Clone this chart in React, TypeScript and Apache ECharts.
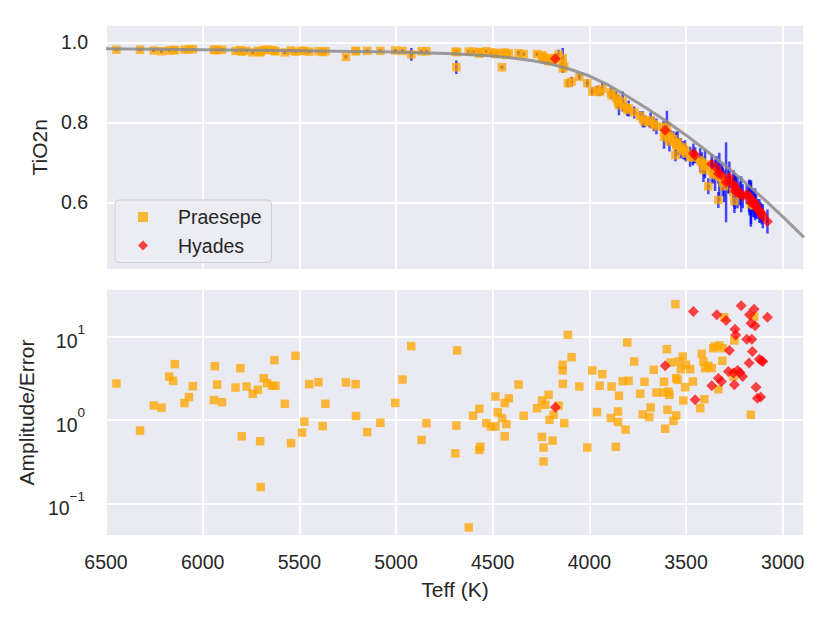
import React, { useEffect, useRef } from "react";
import * as echarts from "echarts";

// ---- Praesepe ----
const praeTeff = [
  6446, 6324, 6253, 6213, 6173, 6153, 6144, 6094, 6071, 6051,
  5942, 5937, 5925, 5900, 5830, 5805, 5798, 5773, 5741, 5714,
  5703, 5700, 5684, 5667, 5641, 5629, 5624, 5575, 5543, 5520,
  5486, 5474, 5449, 5401, 5379, 5365, 5259, 5209, 5207, 5149,
  5081, 5004, 4966, 4921, 4868, 4843, 4693, 4688, 4684, 4624,
  4602, 4569, 4569, 4564, 4533, 4509, 4486, 4486, 4474, 4452,
  4438, 4438, 4429, 4417, 4366, 4340, 4271, 4245, 4245, 4237,
  4237, 4228, 4211, 4206, 4190, 4185, 4159, 4138, 4138, 4137,
  4130, 4111, 4092, 4052, 4011, 3985, 3961, 3947, 3933, 3889,
  3885, 3863, 3852, 3852, 3847, 3828, 3813, 3804, 3797, 3768,
  3737, 3724, 3715, 3690, 3683, 3667, 3653, 3617, 3614, 3608,
  3599, 3596, 3591, 3586, 3579, 3565, 3555, 3551, 3551, 3544,
  3539, 3527, 3517, 3514, 3505, 3500, 3479, 3465, 3427, 3419,
  3410, 3405, 3402, 3385, 3367, 3359, 3350, 3333, 3328, 3312,
  3310, 3303, 3255, 3250, 3165, 3148,
];
const praeAmp = [
  2.75, 0.75, 1.5, 1.41, 3.33, 2.96, 4.69, 1.6, 1.89, 2.55,
  1.74, 4.43, 2.67, 1.64, 2.46, 4.2, 0.64, 2.53, 2.07, 2.31,
  0.56, 0.158, 3.18, 2.77, 2.58, 5.23, 2.58, 1.57, 0.53, 5.89,
  0.71, 0.96, 2.7, 2.85, 0.85, 1.57, 2.83, 2.7, 1.12, 0.72,
  0.93, 1.61, 3.07, 7.7, 0.58, 0.92, 0.4, 0.86, 6.83, 0.052,
  1.13, 1.37, 0.44, 0.48, 0.92, 0.84, 1.92, 0.84, 1.24, 1.06,
  0.64, 1.6, 0.9, 1.82, 2.67, 1.13, 1.39, 1.72, 0.63, 0.47,
  0.32, 1.53, 2.01, 1.01, 0.57, 1.16, 1.49, 4.6, 3.94, 2.72,
  0.92, 10.5, 5.68, 2.53, 0.47, 3.94, 1.25, 2.58, 3.56, 1.06,
  2.53, 0.48, 1.27, 0.95, 1.96, 2.93, 0.77, 8.51, 2.96, 5.04,
  2.07, 1.17, 2.88, 1.09, 1.42, 4.01, 2.14, 2.14, 2.88, 0.79,
  7.08, 1.33, 2.2, 2.01, 4.91, 0.98, 24.5, 3.18, 1.14, 3.04,
  5.04, 4.08, 5.79, 1.72, 2.48, 4.6, 4.08, 2.9, 1.39, 6.23,
  5.04, 1.78, 4.2, 4.47, 4.2, 7.28, 7.62, 2.35, 7.84, 5.14,
  7.28, 17.1, 3.33, 9.0, 1.16, 17.4,
];
const praeTiO = [
  0.982, 0.982, 0.98, 0.978, 0.98, 0.981, 0.981, 0.982, 0.983, 0.983,
  0.981, 0.982, 0.981, 0.982, 0.979, 0.981, 0.977, 0.979, 0.975, 0.979,
  0.975, 0.977, 0.981, 0.982, 0.981, 0.979, 0.978, 0.975, 0.98, 0.977,
  0.979, 0.979, 0.977, 0.978, 0.976, 0.978, 0.964, 0.979, 0.978, 0.979,
  0.979, 0.98, 0.979, 0.97, 0.978, 0.978, 0.977, 0.938, 0.976, 0.977,
  0.977, 0.976, 0.972, 0.975, 0.978, 0.975, 0.974, 0.971, 0.972, 0.938,
  0.975, 0.971, 0.969, 0.973, 0.973, 0.971, 0.971, 0.968, 0.963, 0.964,
  0.961, 0.957, 0.953, 0.959, 0.961, 0.955, 0.97, 0.961, 0.948, 0.935,
  0.94, 0.898, 0.902, 0.914, 0.898, 0.877, 0.88, 0.876, 0.884, 0.875,
  0.868, 0.862, 0.856, 0.85, 0.843, 0.852, 0.838, 0.831, 0.835, 0.825,
  0.816, 0.808, 0.802, 0.8, 0.805, 0.796, 0.79, 0.788, 0.764, 0.775,
  0.789, 0.77, 0.76, 0.752, 0.765, 0.758, 0.718, 0.75, 0.742, 0.748,
  0.74, 0.735, 0.738, 0.728, 0.73, 0.722, 0.714, 0.712, 0.705, 0.7,
  0.681, 0.69, 0.695, 0.64, 0.677, 0.672, 0.668, 0.606, 0.664, 0.66,
  0.65, 0.64, 0.625, 0.603, 0.595, 0.592,
];
const praeErr = [
  0.003, 0.003, 0.003, 0.003, 0.003, 0.003, 0.003, 0.003, 0.003, 0.003,
  0.004, 0.003, 0.003, 0.003, 0.003, 0.004, 0.003, 0.003, 0.003, 0.003,
  0.003, 0.003, 0.006, 0.003, 0.003, 0.003, 0.005, 0.003, 0.003, 0.003,
  0.003, 0.003, 0.003, 0.003, 0.003, 0.003, 0.004, 0.003, 0.003, 0.003,
  0.003, 0.003, 0.004, 0.016, 0.003, 0.003, 0.003, 0.017, 0.003, 0.004,
  0.003, 0.005, 0.004, 0.003, 0.003, 0.003, 0.004, 0.004, 0.005, 0.004,
  0.003, 0.006, 0.004, 0.004, 0.006, 0.004, 0.004, 0.006, 0.005, 0.006,
  0.005, 0.006, 0.005, 0.006, 0.008, 0.006, 0.012, 0.025, 0.023, 0.01,
  0.008, 0.01, 0.012, 0.008, 0.01, 0.01, 0.012, 0.01, 0.015, 0.012,
  0.01, 0.015, 0.012, 0.015, 0.025, 0.025, 0.012, 0.015, 0.02, 0.015,
  0.012, 0.02, 0.015, 0.012, 0.02, 0.018, 0.02, 0.015, 0.03, 0.02,
  0.04, 0.02, 0.018, 0.025, 0.015, 0.02, 0.015, 0.025, 0.02, 0.03,
  0.02, 0.025, 0.015, 0.02, 0.025, 0.02, 0.025, 0.02, 0.03, 0.025,
  0.03, 0.025, 0.035, 0.02, 0.03, 0.025, 0.04, 0.02, 0.06, 0.03,
  0.035, 0.04, 0.035, 0.03, 0.056, 0.03,
];

// ---- Hyades ----
const hyaTeff = [
  4176, 3608, 3462, 3453, 3367, 3341, 3333, 3317, 3293, 3281,
  3276, 3255, 3250, 3247, 3243, 3234, 3221, 3215, 3207, 3186,
  3174, 3172, 3164, 3160, 3157, 3148, 3143, 3138, 3131, 3121,
  3114, 3109, 3103, 3079,
];
const hyaAmp = [
  1.43, 4.47, 20.0, 1.75, 2.58, 18.3, 3.18, 2.9, 15.6, 3.83,
  6.83, 3.66, 2.65, 12.3, 10.5, 3.94, 3.72, 23.4, 3.33, 9.33,
  4.82, 18.3, 14.5, 9.33, 6.64, 21.3, 13.5, 2.48, 1.83, 5.38,
  1.89, 5.14, 5.04, 17.1,
];
const hyaTiO = [
  0.959, 0.78, 0.722, 0.718, 0.696, 0.685, 0.672, 0.668, 0.65, 0.652,
  0.662, 0.645, 0.64, 0.628, 0.635, 0.625, 0.622, 0.62, 0.615, 0.62,
  0.615, 0.612, 0.6, 0.605, 0.598, 0.6, 0.595, 0.59, 0.583, 0.578,
  0.575, 0.57, 0.565, 0.552,
];
const hyaErr = [
  0.006, 0.02, 0.025, 0.02, 0.025, 0.03, 0.025, 0.03, 0.1, 0.03,
  0.04, 0.035, 0.03, 0.045, 0.03, 0.04, 0.03, 0.045, 0.03, 0.025,
  0.04, 0.045, 0.055, 0.03, 0.035, 0.03, 0.04, 0.03, 0.025, 0.03,
  0.025, 0.025, 0.03, 0.03,
];

// ---- fitted relation ----
const fitTeff = [6500, 6000, 5500, 5000, 4700, 4500, 4400, 4300, 4200, 4100, 4000, 3900, 3800, 3700, 3600, 3500, 3400, 3300, 3200, 3100, 3000, 2890];
const fitTiO = [0.984, 0.982, 0.979, 0.976, 0.972, 0.966, 0.961, 0.955, 0.946, 0.933, 0.916, 0.893, 0.864, 0.834, 0.802, 0.768, 0.731, 0.693, 0.652, 0.609, 0.564, 0.512];

// ---- tick values ----
const amplitudeDecades = [0.1, 1, 10];

const FONT = "'Liberation Sans', Arial, sans-serif";
const TXT = "#262626";
const ORANGE = "rgba(255,165,0,0.95)";
const RED = "rgba(255,0,0,0.9)";
const BLUE = "rgba(0,0,255,0.7)";

export default function App() {
  const ref = useRef<HTMLDivElement>(null);
  useEffect(() => {
    if (!ref.current) return;
    const chart = echarts.init(ref.current, null, { renderer: "svg" });

    const split = { show: true, lineStyle: { color: "#ffffff", width: 1.8 } };
    const xCommon = {
      type: "value",
      inverse: true,
      min: 2890,
      max: 6500,
      splitNumber: 7,
      axisLine: { show: false },
      axisTick: { show: false },
      splitLine: split,
    };

    const errRender = (params: any, api: any) => {
      const x = api.value(0);
      const y = api.value(1);
      const e = api.value(2);
      const p1 = api.coord([x, y + e]);
      const p2 = api.coord([x, y - e]);
      const c = api.coord([x, y]);
      return {
        type: "group",
        children: [
          {
            type: "line",
            shape: { x1: p1[0], y1: p1[1], x2: p2[0], y2: p2[1] },
            style: { stroke: BLUE, lineWidth: 2.5 },
          },
          {
            type: "rect",
            shape: { x: c[0] - 1.5, y: c[1] - 1.5, width: 3, height: 3 },
            style: { fill: "rgba(0,0,230,0.85)" },
          },
        ],
      };
    };

    const option: any = {
      animation: false,
      textStyle: { fontFamily: FONT, color: TXT },
      grid: [
        { left: 106, top: 24.5, width: 698, height: 245.5, show: true, backgroundColor: "#EAEAF2", borderWidth: 0 },
        { left: 106, top: 289, width: 698, height: 247, show: true, backgroundColor: "#EAEAF2", borderWidth: 0 },
      ],
      legend: {
        left: 115,
        top: 200,
        orient: "vertical",
        padding: [7, 10, 7, 23],
        itemGap: 8.5,
        itemWidth: 10,
        itemHeight: 10,
        backgroundColor: "rgba(236,236,243,0.9)",
        borderColor: "#CFCFCF",
        borderWidth: 1,
        borderRadius: 4,
        textStyle: { fontFamily: FONT, fontSize: 19.5, color: TXT, padding: [0, 0, 0, 25] },
        data: [
          { name: "Praesepe", icon: "rect" },
          { name: "Hyades", icon: "diamond" },
        ],
      },
      xAxis: [
        { ...xCommon, gridIndex: 0, axisLabel: { show: false } },
        {
          ...xCommon,
          gridIndex: 1,
          axisLabel: {
            show: true,
            fontSize: 19.5,
            color: TXT,
            fontFamily: FONT,
            margin: 16,
            showMinLabel: false,
            showMaxLabel: true,
            formatter: (v: number) => String(Math.round(v)),
          },
          name: "Teff (K)",
          nameLocation: "middle",
          nameGap: 43,
          nameTextStyle: { fontSize: 21, color: TXT, fontFamily: FONT },
        },
      ],
      yAxis: [
        {
          type: "value",
          gridIndex: 0,
          min: 0.4305,
          max: 1.045,
          splitNumber: 3,
          axisLine: { show: false },
          axisTick: { show: false },
          splitLine: split,
          axisLabel: {
            fontSize: 19.5,
            color: TXT,
            fontFamily: FONT,
            margin: 18,
            showMinLabel: false,
            showMaxLabel: false,
            formatter: (v: number) => v.toFixed(1),
          },
          name: "TiO2n",
          nameLocation: "middle",
          nameGap: 53,
          nameTextStyle: { fontSize: 21, color: TXT, fontFamily: FONT },
        },
        {
          type: "log",
          logBase: 10,
          gridIndex: 1,
          min: 0.041,
          max: 37.2,
          axisLine: { show: false },
          axisTick: { show: false },
          splitLine: split,
          axisLabel: {
            margin: 21,
            showMinLabel: false,
            showMaxLabel: false,
            formatter: (v: number) => {
              const hit = amplitudeDecades.find((d) => Math.abs(Math.log10(v / d)) < 0.01);
              if (hit == null) return "";
              const n = Math.round(Math.log10(hit));
              const s = n < 0 ? "\u2212" + String(-n) : String(n);
              return "{b|10}{s|" + s + "}";
            },
            rich: {
              b: { fontSize: 19.5, color: TXT, fontFamily: FONT, padding: [9, 0, 0, 0] },
              s: { fontSize: 13.5, color: TXT, fontFamily: FONT, verticalAlign: "top" },
            },
          },
          name: "Amplitude/Error",
          nameLocation: "middle",
          nameGap: 65,
          nameTextStyle: { fontSize: 21, color: TXT, fontFamily: FONT },
        },
      ],
      series: [
        {
          name: "fit",
          type: "line",
          xAxisIndex: 0,
          yAxisIndex: 0,
          data: fitTeff.map((t, i) => [t, fitTiO[i]]),
          showSymbol: false,
          smooth: false,
          lineStyle: { color: "rgba(140,140,140,0.85)", width: 3 },
          silent: true,
        },
        {
          name: "Praesepe",
          type: "scatter",
          xAxisIndex: 0,
          yAxisIndex: 0,
          symbol: "rect",
          symbolSize: 8.5,
          itemStyle: { color: ORANGE },
          data: praeTeff.map((t, i) => [t, praeTiO[i]]),
        },
        {
          name: "Hyades",
          type: "scatter",
          xAxisIndex: 0,
          yAxisIndex: 0,
          symbol: "diamond",
          symbolSize: 11,
          itemStyle: { color: RED },
          data: hyaTeff.map((t, i) => [t, hyaTiO[i]]),
        },
        {
          name: "Praesepe err",
          type: "custom",
          xAxisIndex: 0,
          yAxisIndex: 0,
          renderItem: errRender,
          encode: { x: 0, y: 1 },
          clip: true,
          data: praeTeff.map((t, i) => [t, praeTiO[i], praeErr[i]]),
        },
        {
          name: "Hyades err",
          type: "custom",
          xAxisIndex: 0,
          yAxisIndex: 0,
          renderItem: errRender,
          encode: { x: 0, y: 1 },
          clip: true,
          data: hyaTeff.map((t, i) => [t, hyaTiO[i], hyaErr[i]]),
        },
        {
          name: "Praesepe",
          type: "scatter",
          xAxisIndex: 1,
          yAxisIndex: 1,
          symbol: "rect",
          symbolSize: 8.5,
          itemStyle: { color: ORANGE },
          data: praeTeff.map((t, i) => [t, praeAmp[i]]),
        },
        {
          name: "Hyades",
          type: "scatter",
          xAxisIndex: 1,
          yAxisIndex: 1,
          symbol: "diamond",
          symbolSize: 11,
          itemStyle: { color: RED },
          data: hyaTeff.map((t, i) => [t, hyaAmp[i]]),
        },
      ],
    };

    chart.setOption(option);
    return () => chart.dispose();
  }, []);

  return (
    <div
      ref={ref}
      style={{ position: "fixed", left: 0, top: 0, width: 830, height: 623, background: "#ffffff" }}
    />
  );
}
